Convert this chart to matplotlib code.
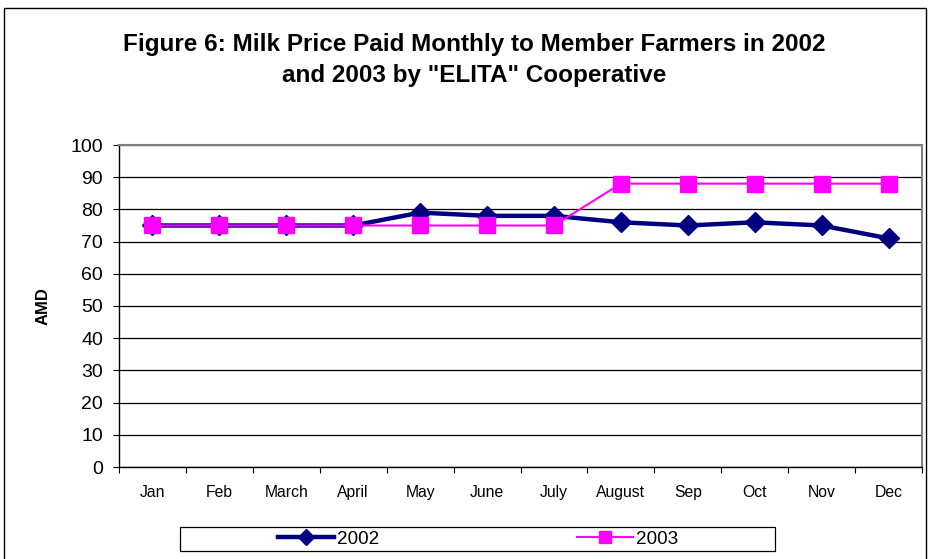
import matplotlib.pyplot as plt
from matplotlib.patches import Rectangle
from matplotlib.ticker import FixedLocator

plt.rcParams['font.family'] = ['Liberation Sans', 'DejaVu Sans']

months = ['Jan', 'Feb', 'March', 'April', 'May', 'June', 'July', 'August',
          'Sep', 'Oct', 'Nov', 'Dec']
price_2002 = [75, 75, 75, 75, 79, 78, 78, 76, 75, 76, 75, 71]
price_2003 = [75, 75, 75, 75, 75, 75, 75, 88, 88, 88, 88, 88]

W, H = 930, 559
fig = plt.figure(figsize=(W / 100, H / 100), dpi=100)

# outer chart border
fig.patches.append(Rectangle((4 / W, -0.01), 922 / W, 1 - 8 / H + 0.01,
                             transform=fig.transFigure, fill=False,
                             edgecolor='black', linewidth=1))

ax = fig.add_axes([119 / W, 1 - 467 / H, 803 / W, 322 / H])

x = list(range(len(months)))
ax.plot(x, price_2002, color='#000080', linewidth=3.2, marker='D',
        markersize=10, label='2002', zorder=3)
ax.plot(x, price_2003, color='#FF00FF', linewidth=1.5, marker='s',
        markersize=11, label='2003', zorder=4)

ax.set_xlim(-0.5, len(months) - 0.5)
ax.set_ylim(0, 100)
ax.set_yticks(range(0, 101, 10))
ax.yaxis.grid(True, color='black', linewidth=0.9)
ax.set_axisbelow(True)

ax.set_xticks(x)
ax.set_xticklabels(months, fontsize=11.3)
ax.tick_params(axis='x', which='major', length=0, pad=13)
ax.xaxis.set_minor_locator(FixedLocator([i - 0.5 for i in range(len(months) + 1)]))
ax.tick_params(axis='x', which='minor', length=4.5, width=0.8, direction='out')
ax.tick_params(axis='y', labelsize=14, length=4.5, width=0.8, pad=7)

for side in ['top', 'right']:
    ax.spines[side].set_color('#808080')
    ax.spines[side].set_linewidth(1.5)
for side in ['left', 'bottom']:
    ax.spines[side].set_linewidth(1)

ax.set_ylabel('AMD', fontsize=12, fontweight='bold', labelpad=14)

fig.text(474 / W, 1 - 60 / H,
         'Figure 6: Milk Price Paid Monthly to Member Farmers in 2002\n'
         'and 2003 by "ELITA" Cooperative',
         ha='center', va='center', fontsize=17.5, fontweight='bold',
         linespacing=1.4)

# legend box at the bottom, entries centred in two equal columns
fig.patches.append(Rectangle((180 / W, 1 - 551 / H), 595 / W, 24 / H,
                             transform=fig.transFigure, facecolor='white',
                             edgecolor='black', linewidth=0.9))
leg = fig.legend(loc='center', bbox_to_anchor=(478 / W, 1 - 539 / H),
                 ncol=2, frameon=False, fontsize=13.6, columnspacing=10.5,
                 handlelength=2.95, handletextpad=0.15, borderpad=0,
                 markerscale=0.85)

fig.savefig('out.png', dpi=100)
